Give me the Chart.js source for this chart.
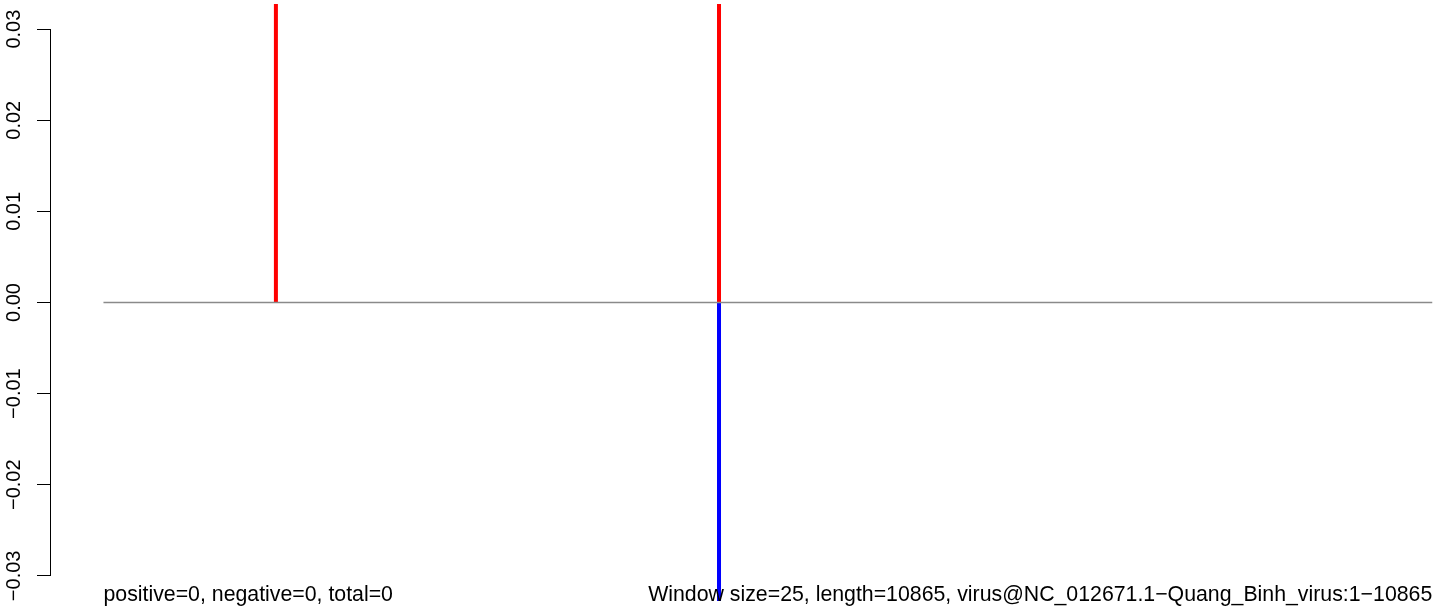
<!DOCTYPE html>
<html>
<head>
<meta charset="utf-8">
<script src="https://cdn.jsdelivr.net/npm/chart.js@4/dist/chart.umd.min.js"></script>
<style>
  html, body { margin: 0; padding: 0; background: #fff; }
  #wrap { width: 1444px; height: 613px; position: relative; }
</style>
</head>
<body>
<div id="wrap"><canvas id="myChart"></canvas></div>
<script>
// data
const seqLength = 10865;
const sitePositions = [1410, 5033];
const upValues = [0.05, 0.05];     // both run past the top of the plot
const downValues = [0, -0.05];     // second one runs past the bottom
const yTicks = [-0.03, -0.02, -0.01, 0, 0.01, 0.02, 0.03];
const yTickLabels = ["\u22120.03", "\u22120.02", "\u22120.01", "0.00", "0.01", "0.02", "0.03"];
const leftNote = "positive=0, negative=0, total=0";
const rightNote = "Window size=25, length=10865, virus@NC_012671.1\u2212Quang_Binh_virus:1\u221210865";

Chart.defaults.font.family = "'Liberation Sans', Arial, sans-serif";
Chart.defaults.color = "#000";

document.addEventListener("DOMContentLoaded", function () {

  const datasets = [];

  // zero baseline
  datasets.push({
    data: [{ x: 0, y: 0 }, { x: seqLength, y: 0 }],
    borderColor: "#8a8a8a",
    borderWidth: 1.5,
  });

  sitePositions.forEach(function (pos, i) {
    if (upValues[i] > 0) {
      datasets.push({
        data: [{ x: pos, y: 0 }, { x: pos, y: upValues[i] }],
        borderColor: "#ff0000",
        borderWidth: 4,
      });
    }
    if (downValues[i] < 0) {
      datasets.push({
        data: [{ x: pos, y: 0 }, { x: pos, y: downValues[i] }],
        borderColor: "#0000ff",
        borderWidth: 4,
      });
    }
  });

  // axis line only over the tick range + the two notes under the plot
  const extras = {
    id: "extras",
    afterDraw(chart) {
      const c = chart.ctx;
      const y = chart.scales.y;
      const x = chart.scales.x;
      c.save();
      c.strokeStyle = "#000";
      c.lineWidth = 1;
      c.beginPath();
      c.moveTo(Math.round(y.right) - 0.5, y.getPixelForValue(yTicks[0]));
      c.lineTo(Math.round(y.right) - 0.5, y.getPixelForValue(yTicks[yTicks.length - 1]));
      c.stroke();

      c.fillStyle = "#000";
      c.font = "21.3px 'Liberation Sans', Arial, sans-serif";
      c.textBaseline = "alphabetic";
      c.textAlign = "left";
      c.fillText(leftNote, x.getPixelForValue(0), 601);
      c.textAlign = "right";
      c.fillText(rightNote, x.getPixelForValue(seqLength), 601);
      c.restore();
    },
  };

  const ctx = document.getElementById("myChart");
  new Chart(ctx, {
    type: "line",
    data: { datasets: datasets },
    plugins: [extras],
    options: {
      responsive: true,
      maintainAspectRatio: false,
      animation: false,
      layout: { padding: { top: 4, bottom: 12, left: 0, right: 0 } },
      elements: {
        point: { radius: 0, hoverRadius: 0 },
        line: { tension: 0 },
      },
      datasets: { line: { clip: 0 } },
      plugins: {
        legend: { display: false },
        tooltip: { enabled: false },
      },
      scales: {
        x: {
          type: "linear",
          display: false,
          min: -429,
          max: 10961,
        },
        y: {
          type: "linear",
          position: "left",
          min: -0.03276,
          max: 0.03276,
          afterFit: function (s) {
            s.width = 51;
            s.paddingTop = 0;
            s.paddingBottom = 0;
          },
          afterBuildTicks: function (s) {
            s.ticks = yTicks.map(function (v) { return { value: v }; });
          },
          border: { display: false },
          grid: {
            drawOnChartArea: false,
            drawTicks: true,
            tickLength: 14,
            tickColor: "#000",
            tickWidth: 1,
          },
          ticks: {
            autoSkip: false,
            minRotation: 90,
            maxRotation: 90,
            crossAlign: "center",
            padding: -3,
            font: { size: 20 },
            color: "#000",
            callback: function (value) {
              const i = yTicks.indexOf(value);
              return i >= 0 ? yTickLabels[i] : "";
            },
          },
        },
      },
    },
  });
});
</script>
</body>
</html>
